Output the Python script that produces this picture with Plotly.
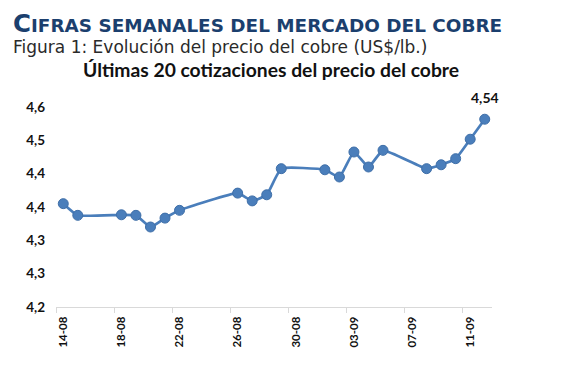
import plotly.graph_objects as go

dates = ["2025-08-14", "2025-08-15", "2025-08-18", "2025-08-19", "2025-08-20", "2025-08-21",
         "2025-08-22", "2025-08-26", "2025-08-27", "2025-08-28", "2025-08-29", "2025-09-01",
         "2025-09-02", "2025-09-03", "2025-09-04", "2025-09-05", "2025-09-08", "2025-09-09",
         "2025-09-10", "2025-09-11", "2025-09-12"]
prices = [4.386, 4.365, 4.366, 4.365, 4.344, 4.360, 4.374, 4.405, 4.391, 4.402, 4.449,
          4.447, 4.434, 4.479, 4.452, 4.482, 4.449, 4.456, 4.467, 4.502, 4.538]
x_tick_dates = ["2025-08-14", "2025-08-18", "2025-08-22", "2025-08-26", "2025-08-30",
                "2025-09-03", "2025-09-07", "2025-09-11"]
x_tick_labels = ["14-08", "18-08", "22-08", "26-08", "30-08", "03-09", "07-09", "11-09"]
y_ticks = [4.20, 4.26, 4.32, 4.38, 4.44, 4.50, 4.56]
x_minor = ["2025-08-13 12:00", "2025-08-17 12:00", "2025-08-21 12:00", "2025-08-25 12:00",
           "2025-08-29 12:00", "2025-09-02 12:00", "2025-09-06 12:00", "2025-09-10 12:00"]

blue = "#4A7EBB"
fig = go.Figure(go.Scatter(
    x=dates, y=prices, mode="lines+markers",
    line=dict(color=blue, width=2.7, shape="spline", smoothing=0.4),
    marker=dict(color=blue, size=10, line=dict(color="#3F6FA8", width=1)),
    cliponaxis=False, hoverinfo="skip"))

fig.update_layout(
    width=569, height=375,
    margin=dict(l=48, r=85, t=99, b=76),
    paper_bgcolor="white", plot_bgcolor="white",
    separators=",.",
    showlegend=False,
    font=dict(family="Lato", color="#111111"),
)
fig.update_xaxes(
    type="date", range=["2025-08-13 12:00", "2025-09-12 12:00"],
    tickvals=x_tick_dates, ticktext=x_tick_labels, tickangle=-90,
    ticks="", showgrid=False, zeroline=False,
    showline=True, linecolor="#D9D9D9", linewidth=1,
    ticklabelstandoff=4,
    tickfont=dict(family="Lato", size=11.5, color="#111111", weight="bold"),
    minor=dict(tickvals=x_minor, ticks="outside", ticklen=5, tickcolor="#D9D9D9", showgrid=False),
)
fig.update_yaxes(
    range=[4.20, 4.56], tickvals=y_ticks, tickformat=".1f",
    showgrid=False, zeroline=False, showline=False, ticks="",
    ticklabelstandoff=10,
    tickfont=dict(family="Lato", size=13.5, color="#111111", weight="bold"),
)

# data label on last point
fig.add_annotation(
    x=dates[-1], y=prices[-1], yshift=22, showarrow=False,
    text=f"{prices[-1]:.2f}".replace(".", ","),
    font=dict(family="Lato", size=14, color="#111111", weight="bold"))

fig.add_annotation(
    xref="paper", yref="paper", x=-0.1032, y=1.42, xanchor="left", yanchor="middle",
    text='<span style="font-size:24.5px">C</span>IFRAS SEMANALES DEL MERCADO DEL COBRE',
    showarrow=False, font=dict(family="DejaVu Sans", size=18.4, color="#1B3F6E", weight="bold"))
fig.add_annotation(
    xref="paper", yref="paper", x=-0.1032, y=1.298, xanchor="left", yanchor="middle",
    text="Figura 1: Evolución del precio del cobre (US$/lb.)",
    showarrow=False, font=dict(family="DejaVu Sans", size=17, color="#2A2A2A"))
fig.add_annotation(
    xref="paper", yref="paper", x=0.493, y=1.19, xanchor="center", yanchor="middle",
    text="Últimas 20 cotizaciones del precio del cobre",
    showarrow=False, font=dict(family="Lato", size=19.3, color="#111111", weight="bold"))

fig.write_html("out.html")
